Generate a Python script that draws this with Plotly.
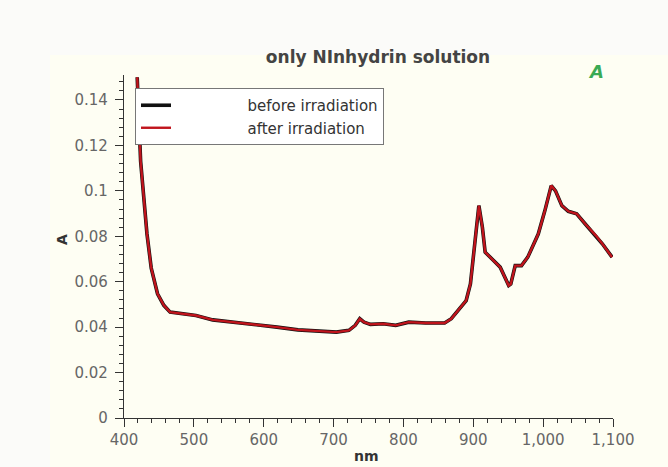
import plotly.graph_objects as go

wavelength_nm = [418.9, 423.8, 432.9, 439, 448, 457, 466, 485, 503, 527, 558, 588, 619, 649, 680, 704,
                 722, 731, 737.5, 743.6, 752.7, 771, 789, 807.6, 832, 859, 868.5, 880.7, 889.8, 895.9,
                 902, 908, 913, 917, 929, 938.5, 950.7, 953.7, 960, 969, 978, 993, 1002.5, 1011.6,
                 1017.7, 1026.8, 1036, 1048, 1060, 1075.6, 1084.7, 1098.7]
absorbance_before = [0.150, 0.113, 0.081, 0.066, 0.0547, 0.0496, 0.0466, 0.0459, 0.0451, 0.0432, 0.0422,
                     0.0412, 0.0400, 0.0388, 0.0381, 0.0378, 0.0386, 0.0408, 0.0437, 0.0422, 0.0412,
                     0.0415, 0.0408, 0.0422, 0.0418, 0.0418, 0.0437, 0.0480, 0.0517, 0.0590, 0.0780,
                     0.0935, 0.0840, 0.0730, 0.0693, 0.0664, 0.0583, 0.0590, 0.0671, 0.0671, 0.0708,
                     0.0810, 0.0913, 0.1023, 0.1000, 0.0935, 0.0910, 0.0899, 0.0855, 0.0803, 0.0767,
                     0.0708]
absorbance_after = list(absorbance_before)

series_names = ["before irradiation", "after irradiation"]
x_tick_vals = [400, 500, 600, 700, 800, 900, 1000, 1100]
y_tick_vals = [0, 0.02, 0.04, 0.06, 0.08, 0.1, 0.12, 0.14]

FONT = "DejaVu Sans"
PAD = "\u00a0" * 15  # spacing between legend sample and label, as in the reference

fig = go.Figure()
fig.add_trace(go.Scatter(x=wavelength_nm, y=absorbance_before, mode="lines", name=PAD + series_names[0],
                         line=dict(color="#111111", width=3.6)))
fig.add_trace(go.Scatter(x=wavelength_nm, y=absorbance_after, mode="lines", name=PAD + series_names[1],
                         line=dict(color="#c0141c", width=2.4)))

axis_common = dict(showgrid=False, zeroline=False, showline=True, linecolor="#333333", linewidth=1.2,
                   ticks="outside", tickcolor="#333333", ticklen=8, tickwidth=1.2,
                   tickfont=dict(family=FONT, size=15, color="#666666"))

L, R, T, B = 124, 613, 75, 418
W = R - L
H = B - T

fig.update_layout(
    width=668, height=467,
    margin=dict(l=L, r=668 - R, t=T, b=467 - B),
    paper_bgcolor="#fbfbf9",
    plot_bgcolor="#fffff3",
    font=dict(family=FONT),
    title=dict(text="<b>only NInhydrin solution</b>", x=(378 - L) / W, xref="paper", xanchor="center",
               y=1 - 57 / 467, yref="container", yanchor="middle",
               font=dict(family=FONT, size=17, color="#444444")),
    xaxis=dict(range=[400, 1100], tickvals=x_tick_vals, tickformat=",",
               minor=dict(dtick=20, ticks="outside", ticklen=4, tickcolor="#333333"),
               **axis_common),
    yaxis=dict(range=[0, 0.151], tickvals=y_tick_vals, ticklabelstandoff=4,
               minor=dict(dtick=0.004, ticks="outside", ticklen=4, tickcolor="#333333"),
               **axis_common),
    legend=dict(x=(135 - L) / W, y=(B - 88) / H, xanchor="left", yanchor="top", bgcolor="#ffffff",
                bordercolor="#777777", borderwidth=1,
                font=dict(family=FONT, size=15, color="#333333"), tracegroupgap=0),
    showlegend=True,
    shapes=[
        dict(type="rect", xref="paper", yref="paper", layer="below", line=dict(width=0),
             fillcolor="#fefef3",
             x0=(50 - L) / W, x1=(668 - L) / W, y0=(B - 467) / H, y1=(B - 55) / H),
    ],
    annotations=[
        dict(text="<b><i>A</i></b>", x=(596 - L) / W, y=(B - 72) / H, xref="paper", yref="paper",
             xanchor="center", yanchor="middle",
             showarrow=False, font=dict(family=FONT, size=18, color="#3aaa55")),
        dict(text="<b>A</b>", x=(62 - L) / W, y=(B - 240) / H, xref="paper", yref="paper", textangle=-90,
             xanchor="center", yanchor="middle",
             showarrow=False, font=dict(family=FONT, size=14, color="#333333")),
        dict(text="<b>nm</b>", x=(366 - L) / W, y=(B - 456) / H, xref="paper", yref="paper",
             xanchor="center", yanchor="middle",
             showarrow=False, font=dict(family=FONT, size=14, color="#333333")),
    ],
)

fig.write_html("out.html")
